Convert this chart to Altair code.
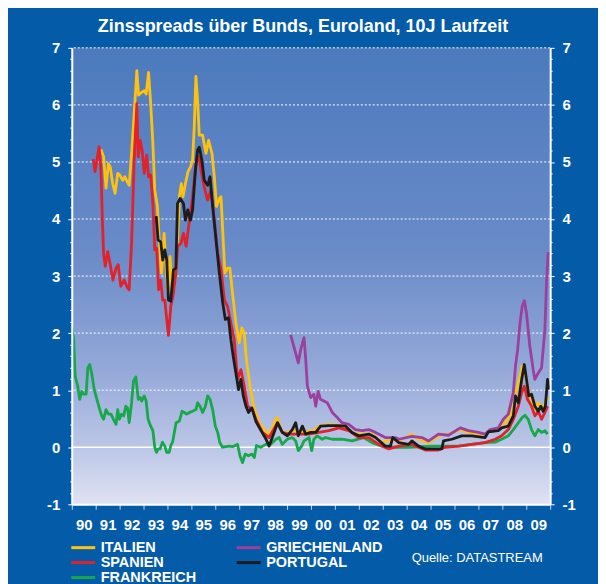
import altair as alt
import pandas as pd

# ---------------- data ----------------
italien_t = [1991.22,1991.33,1991.43,1991.53,1991.61,1991.71,1991.81,1991.92,1992.01,1992.13,1992.22,1992.30,1992.40,1992.50,1992.61,1992.72,1992.79,1992.92,1993.03,1993.11,1993.21,1993.30,1993.39,1993.47,1993.58,1993.67,1993.75,1993.86,1993.94,1994.03,1994.11,1994.20,1994.29,1994.43,1994.50,1994.58,1994.65,1994.75,1994.86,1994.96,1995.05,1995.12,1995.19,1995.26,1995.33,1995.47,1995.61,1995.72,1995.86,1995.96,1996.05,1996.17,1996.24,1996.30,1996.40,1996.51,1996.61,1996.72,1996.86,1997.00,1997.11,1997.21,1997.30,1997.45,1997.63,1997.83,1998.04,1998.25,1998.53,1998.60,1998.74,1998.95,1999.22,1999.50,1999.78,2000.20,2000.33,2000.75,2001.30,2001.58,2001.86,2002.28,2002.55,2002.97,2003.39,2003.67,2004.22,2004.50,2004.92,2005.33,2005.75,2006.24,2006.58,2007.00,2007.28,2007.49,2007.83,2008.04,2008.25,2008.46,2008.60,2008.74,2008.83,2008.95,2009.08,2009.22,2009.36,2009.50,2009.64,2009.78,2009.89]
italien_v = [5.22,5.09,4.54,4.97,4.91,4.62,4.45,4.80,4.77,4.68,4.74,4.67,4.59,5.15,5.85,6.60,6.17,6.22,6.25,6.19,6.57,6.02,5.32,4.51,4.22,3.52,3.05,3.75,3.17,2.70,3.34,2.70,2.82,3.69,4.40,4.62,4.39,4.62,4.83,4.91,5.03,5.61,6.50,6.08,5.47,5.47,5.15,5.38,5.15,4.74,4.22,4.36,4.39,3.87,3.05,3.14,3.14,2.70,2.18,1.83,2.09,2.00,1.54,1.07,0.66,0.43,0.31,0.20,0.49,0.52,0.31,0.23,0.31,0.26,0.26,0.31,0.37,0.40,0.38,0.31,0.23,0.23,0.23,0.08,0.14,0.11,0.23,0.14,0.08,0.20,0.23,0.31,0.26,0.23,0.23,0.29,0.29,0.40,0.49,0.72,1.01,1.25,1.42,1.30,1.01,0.84,0.66,0.78,0.69,0.75,0.87]

spanien_t = [1990.90,1990.97,1991.05,1991.14,1991.22,1991.28,1991.33,1991.40,1991.50,1991.61,1991.72,1991.85,1991.94,1992.05,1992.19,1992.33,1992.40,1992.50,1992.61,1992.72,1992.78,1992.86,1992.94,1993.03,1993.13,1993.21,1993.30,1993.39,1993.47,1993.55,1993.63,1993.72,1993.80,1993.89,1993.97,1994.04,1994.14,1994.25,1994.35,1994.43,1994.57,1994.67,1994.78,1994.92,1995.05,1995.19,1995.33,1995.40,1995.54,1995.68,1995.82,1995.96,1996.10,1996.24,1996.38,1996.51,1996.65,1996.79,1996.93,1997.07,1997.21,1997.35,1997.55,1997.70,1997.97,1998.25,1998.60,1998.80,1999.08,1999.50,1999.92,2000.33,2000.75,2001.17,2001.58,2002.00,2002.42,2002.83,2003.25,2003.67,2004.22,2004.78,2005.33,2005.60,2006.17,2006.72,2007.28,2007.70,2007.97,2008.25,2008.46,2008.67,2008.81,2008.92,2009.05,2009.22,2009.36,2009.50,2009.64,2009.78,2009.89]
spanien_v = [5.05,4.83,5.03,5.27,4.86,3.98,3.40,3.17,3.43,3.20,2.93,3.14,3.20,2.82,2.93,2.79,2.76,3.58,5.03,6.02,5.09,5.38,5.21,4.80,5.12,4.74,4.77,4.27,3.46,3.49,2.76,2.93,2.58,2.58,2.24,1.96,2.47,2.70,3.05,3.52,3.58,3.75,3.52,3.98,4.39,4.97,5.09,4.86,4.56,4.33,4.51,3.98,3.40,3.11,2.58,2.47,2.18,1.89,1.19,1.36,1.07,0.72,0.66,0.49,0.26,0.17,0.43,0.26,0.23,0.23,0.23,0.26,0.29,0.34,0.29,0.17,0.17,0.05,-0.03,0.02,0.05,-0.05,-0.05,0.00,0.02,0.05,0.08,0.14,0.20,0.31,0.49,0.72,0.96,1.07,0.84,0.72,0.55,0.63,0.49,0.61,0.72]

frankreich_t = [1990.00,1990.08,1990.14,1990.25,1990.33,1990.42,1990.50,1990.60,1990.67,1990.75,1990.83,1990.94,1991.05,1991.17,1991.25,1991.33,1991.43,1991.53,1991.64,1991.74,1991.85,1991.92,1991.99,1992.08,1992.17,1992.26,1992.33,1992.40,1992.50,1992.58,1992.68,1992.78,1992.86,1992.92,1993.03,1993.11,1993.19,1993.30,1993.39,1993.47,1993.54,1993.61,1993.69,1993.79,1993.89,1993.97,1994.07,1994.14,1994.22,1994.36,1994.50,1994.61,1994.71,1994.80,1994.92,1995.05,1995.19,1995.26,1995.36,1995.47,1995.58,1995.68,1995.78,1995.89,1996.00,1996.10,1996.19,1996.30,1996.58,1996.72,1996.93,1997.03,1997.14,1997.25,1997.39,1997.53,1997.63,1997.72,1997.90,1998.11,1998.32,1998.53,1998.67,1998.80,1999.01,1999.22,1999.36,1999.47,1999.61,1999.71,1999.92,2000.03,2000.12,2000.26,2000.47,2000.61,2000.89,2001.30,2001.72,2002.20,2002.55,2002.97,2003.53,2004.08,2005.05,2006.17,2006.72,2007.28,2007.70,2007.97,2008.25,2008.46,2008.67,2008.83,2008.95,2009.08,2009.22,2009.36,2009.50,2009.64,2009.78,2009.89]
frankreich_v = [2.12,1.89,1.25,1.07,0.84,0.98,0.93,0.93,1.39,1.45,1.30,1.01,0.84,0.66,0.55,0.49,0.66,0.58,0.58,0.49,0.40,0.66,0.49,0.58,0.55,0.72,0.69,0.43,0.78,1.16,1.23,0.84,0.87,0.81,0.90,0.81,0.49,0.37,0.29,0.00,-0.09,-0.03,-0.03,0.09,0.02,-0.09,-0.09,0.03,0.10,0.43,0.46,0.63,0.61,0.58,0.61,0.63,0.66,0.78,0.72,0.61,0.71,0.90,0.84,0.66,0.37,0.26,0.08,0.00,0.02,0.01,0.05,-0.15,-0.27,-0.12,-0.15,-0.12,-0.18,0.03,0.00,0.05,0.05,0.14,0.17,0.05,0.14,0.17,0.11,-0.06,0.02,0.11,0.17,-0.06,0.14,0.20,0.14,0.17,0.14,0.14,0.11,0.17,0.08,0.02,0.00,0.00,0.02,0.02,0.05,0.08,0.09,0.14,0.20,0.31,0.43,0.52,0.56,0.49,0.31,0.20,0.31,0.26,0.29,0.23]

griechenland_t = [1999.15,1999.36,1999.47,1999.57,1999.71,1999.78,1999.85,1999.99,2000.12,2000.20,2000.30,2000.40,2000.68,2000.89,2001.10,2001.30,2001.58,2001.86,2002.14,2002.42,2002.70,2003.11,2003.53,2003.67,2004.22,2004.64,2004.92,2005.33,2005.75,2006.24,2006.58,2007.00,2007.28,2007.49,2007.83,2008.04,2008.25,2008.46,2008.55,2008.64,2008.74,2008.83,2008.92,2009.01,2009.15,2009.29,2009.36,2009.50,2009.64,2009.78,2009.85,2009.92]
griechenland_v = [1.97,1.65,1.48,1.71,1.92,1.54,1.07,0.87,0.93,0.72,0.98,0.84,0.78,0.61,0.52,0.43,0.40,0.31,0.29,0.31,0.26,0.17,0.17,0.14,0.19,0.17,0.11,0.23,0.21,0.34,0.29,0.26,0.23,0.31,0.34,0.49,0.58,0.96,1.42,1.71,2.18,2.47,2.57,2.35,1.77,1.36,1.19,1.30,1.39,2.06,2.93,3.42]

portugal_t = [1993.53,1993.61,1993.72,1993.80,1993.89,1993.97,1994.04,1994.14,1994.25,1994.35,1994.42,1994.53,1994.67,1994.75,1994.85,1994.96,1995.05,1995.17,1995.26,1995.33,1995.44,1995.54,1995.68,1995.78,1995.89,1996.03,1996.17,1996.31,1996.42,1996.55,1996.65,1996.75,1996.86,1996.97,1997.07,1997.17,1997.28,1997.39,1997.53,1997.70,1997.90,1998.11,1998.25,1998.46,1998.60,1998.80,1999.01,1999.22,1999.36,1999.47,1999.64,1999.78,1999.99,2000.20,2000.40,2000.75,2001.17,2001.45,2001.72,2002.00,2002.42,2002.70,2003.11,2003.32,2003.42,2003.67,2004.08,2004.22,2004.50,2004.78,2005.20,2005.47,2005.54,2005.89,2006.30,2006.72,2007.28,2007.42,2007.83,2007.97,2008.25,2008.46,2008.55,2008.67,2008.81,2008.92,2009.01,2009.11,2009.22,2009.36,2009.50,2009.61,2009.71,2009.80,2009.89,2009.95]
portugal_v = [4.05,3.63,3.60,3.28,3.46,3.28,2.58,2.56,3.11,3.14,4.27,4.36,4.27,3.98,4.16,3.98,4.16,4.86,5.21,5.26,5.03,4.68,4.59,4.74,4.22,3.63,3.05,2.53,2.24,2.27,1.89,1.59,1.30,1.01,1.19,0.90,0.72,0.61,0.69,0.45,0.30,0.15,0.02,0.26,0.43,0.26,0.20,0.31,0.43,0.20,0.37,0.23,0.26,0.26,0.37,0.38,0.38,0.37,0.26,0.20,0.23,0.17,0.02,0.02,0.17,0.08,0.05,0.11,0.02,-0.03,-0.03,-0.03,0.11,0.14,0.20,0.20,0.17,0.27,0.29,0.34,0.37,0.55,0.90,0.78,1.19,1.45,1.19,0.90,0.93,0.72,0.63,0.72,0.63,0.72,1.19,1.01]

# legend fills column by column: first column ITALIEN/SPANIEN/FRANKREICH
legend_order = ["ITALIEN", "SPANIEN", "FRANKREICH", "GRIECHENLAND", "PORTUGAL"]
legend_colors = ["#fdc20f", "#e2222b", "#16a84a", "#9c3f9d", "#1c1c1c"]
draw_order = ["FRANKREICH", "ITALIEN", "SPANIEN", "GRIECHENLAND", "PORTUGAL"]
series = {
    "ITALIEN": (italien_t, italien_v),
    "SPANIEN": (spanien_t, spanien_v),
    "FRANKREICH": (frankreich_t, frankreich_v),
    "GRIECHENLAND": (griechenland_t, griechenland_v),
    "PORTUGAL": (portugal_t, portugal_v),
}
year_ticks = list(range(1990, 2011))
grid_levels = [1, 2, 3, 4, 5, 6, 7]
title_text = "Zinsspreads über Bunds, Euroland, 10J Laufzeit"
source_text = "Quelle: DATASTREAM"

# ---------------- chart ----------------
W, H = 480, 458
FONT = "Liberation Sans"
WHITE = "#ffffff"
int_test = "abs(datum.value - round(datum.value)) < 0.001"
minor_vals = [round(-1 + 0.2 * i, 1) for i in range(41)]

yscale = alt.Scale(domain=[-1, 7], nice=False, zero=False)
xscale = alt.Scale(domain=[1990, 2010], nice=False, zero=False)


def y_axis(orient):
    return alt.Axis(
        orient=orient, values=minor_vals, title=None, grid=False,
        labelExpr=f"{int_test} ? toString(round(datum.value)) : ''",
        labelColor=WHITE, labelFont=FONT, labelFontSize=15, labelFontWeight="bold",
        labelPadding=8, labelOverlap=False,
        tickColor=WHITE, tickWidth=1,
        tickSize={"condition": {"test": int_test, "value": 4}, "value": 2},
        domainColor=WHITE, domainWidth=2, zindex=1,
    )


x_axis = alt.Axis(
    values=year_ticks, title=None, grid=False,
    labelExpr="datum.value >= 2010 ? '' : slice(toString(datum.value), 2)",
    labelOffset=12, labelFlush=False, labelOverlap=False,
    labelColor=WHITE, labelFont=FONT, labelFontSize=15, labelFontWeight="bold",
    labelPadding=8,
    tickColor="#c9cfe3", tickSize=5, tickWidth=1,
    domainColor=WHITE, domainWidth=2, zindex=1,
)

color_scale = alt.Scale(domain=legend_order, range=legend_colors)
legend = alt.Legend(
    title=None, orient="none", legendX=4, legendY=494, columns=2,
    columnPadding=34, rowPadding=0,
    symbolType="M-2,0H2", symbolSize=144, symbolStrokeWidth=3,
    labelColor=WHITE, labelFont=FONT, labelFontSize=14.5, labelFontWeight="bold",
    labelOffset=10, labelLimit=0,
)

bg = alt.Chart(pd.DataFrame({"a": [0]})).mark_rect(
    fill=alt.Gradient(
        gradient="linear", x1=0, x2=0, y1=0, y2=1,
        stops=[
            alt.GradientStop(offset=0, color="#4c7abd"),
            alt.GradientStop(offset=0.45, color="#6a8bc8"),
            alt.GradientStop(offset=0.7, color="#93a8d8"),
            alt.GradientStop(offset=0.9, color="#c2cbe9"),
            alt.GradientStop(offset=1, color="#dfe3f3"),
        ],
    )
).encode(x=alt.value(0), x2=alt.value(W), y=alt.value(0), y2=alt.value(H))

Y = alt.Y("v:Q", scale=yscale, axis=y_axis("left"))

grid = alt.Chart(pd.DataFrame({"v": grid_levels})).mark_rule(
    color=WHITE, strokeWidth=1, strokeDash=[2, 2]
).encode(y=Y)
zero = alt.Chart(pd.DataFrame({"v": [0]})).mark_rule(
    color=WHITE, strokeWidth=1.5
).encode(y=Y)

line_layers = []
for name in draw_order:
    t, v = series[name]
    df = pd.DataFrame({"t": t, "v": v, "land": name})
    line_layers.append(
        alt.Chart(df).mark_line(strokeWidth=2.8, strokeJoin="round").encode(
            x=alt.X("t:Q", scale=xscale, axis=x_axis),
            y=Y,
            color=alt.Color("land:N", scale=color_scale, legend=legend),
        )
    )

inner = alt.layer(grid, zero, *line_layers)

right = alt.Chart(pd.DataFrame({"v": [0]})).mark_rule(opacity=0).encode(
    y=alt.Y("v:Q", scale=yscale, axis=y_axis("right"))
)

source = alt.Chart(pd.DataFrame({"s": [source_text]})).mark_text(
    align="left", baseline="middle", color=WHITE, font=FONT, fontSize=13
).encode(x=alt.value(341), y=alt.value(512), text="s:N")

chart = alt.layer(bg, inner, right, source).resolve_scale(y="independent").properties(
    width=W, height=H,
    title=alt.TitleParams(
        title_text, color=WHITE, font=FONT, fontSize=18, fontWeight="bold",
        anchor="middle", offset=5, dx=-8,
    ),
    autosize=alt.AutoSizeParams(type="none"),
    padding={"left": 64, "top": 39, "right": 48, "bottom": 79},
    background="#045ca8",
).configure_view(stroke=None)

chart.save("out.html", embed_options={"renderer": "svg", "actions": False})
